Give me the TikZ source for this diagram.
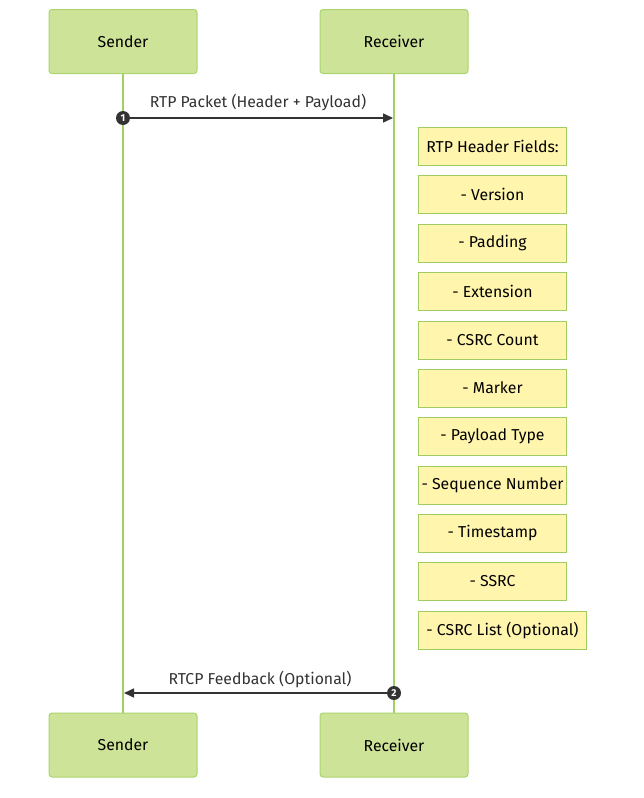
\documentclass[tikz,border=0pt]{standalone}
\usepackage{fontspec}
\setmainfont{Fira Sans}
\usetikzlibrary{arrows.meta}
\definecolor{actfill}{HTML}{CDE498}
\definecolor{actdraw}{HTML}{A9D46E}
\definecolor{lifeln}{HTML}{A3D15E}
\definecolor{notefill}{HTML}{FFF5AD}
\definecolor{notedraw}{HTML}{9FCB62}
\definecolor{msg}{HTML}{333333}
\tikzset{
  actor/.style={draw=actdraw, fill=actfill, line width=1pt, rounded corners=3pt,
    minimum width=148pt, minimum height=64pt, inner sep=0pt, font=\fontsize{15.8}{18}\selectfont, text=black},
  notebox/.style={draw=notedraw, fill=notefill, line width=1pt,
    minimum width=148pt, minimum height=38pt, inner sep=3pt, font=\fontsize{15.8}{18}\selectfont, text=black},
  life/.style={draw=lifeln, line width=1.6pt},
  msgarrow/.style={draw=msg, line width=1.4pt, -{Triangle[length=10pt,width=9pt]}},
  msglabel/.style={font=\fontsize{15.8}{18}\selectfont, text=msg, inner sep=0pt},
  seqnum/.style={circle, fill=msg, text=white, inner sep=0pt, minimum size=14pt, font=\fontsize{10}{11}\selectfont\bfseries},
}
\begin{document}
\begin{tikzpicture}[x=1pt,y=-1pt]
\useasboundingbox (0,0) rectangle (644,798);
% lifelines
\coordinate (sl0) at (123,73);
\coordinate (sl1) at (123,713);
\coordinate (rl0) at (394,73);
\coordinate (rl1) at (394,713);
\draw[life] (sl0) -- (sl1);
\draw[life] (rl0) -- (rl1);
% actors
\node[actor] (s1) at (123,41.5) {Sender};
\node[actor] (r1) at (394,41.5) {Receiver};
\node[actor] (s2) at (123,745) {Sender};
\node[actor] (r2) at (394,745) {Receiver};
% message 1
\coordinate (m1s) at (123,118);
\coordinate (m1e) at (393,118);
\draw[msgarrow] (m1s) -- (m1e);
\node[msglabel] (l1) at (258,103) {RTP Packet (Header + Payload)};
\node[seqnum] (n1) at (m1s) {1};
% notes
\node[notebox] (h0) at (492.5,146) {RTP Header Fields:};
\node[notebox] (h1) at (492.5,194.5) {- Version};
\node[notebox] (h2) at (492.5,243) {- Padding};
\node[notebox] (h3) at (492.5,291) {- Extension};
\node[notebox] (h4) at (492.5,340) {- CSRC Count};
\node[notebox] (h5) at (492.5,388) {- Marker};
\node[notebox] (h6) at (492.5,436.5) {- Payload Type};
\node[notebox] (h7) at (492.5,485) {- Sequence Number};
\node[notebox] (h8) at (492.5,533.5) {- Timestamp};
\node[notebox] (h9) at (492.5,581.5) {- SSRC};
\node[notebox, minimum width=168pt] (h10) at (502.5,630.5) {- CSRC List (Optional)};
% message 2
\coordinate (m2s) at (394,693);
\coordinate (m2e) at (124,693);
\draw[msgarrow] (m2s) -- (m2e);
\node[msglabel] (l2) at (260,679) {RTCP Feedback (Optional)};
\node[seqnum] (n2) at (m2s) {2};
\end{tikzpicture}
\end{document}
